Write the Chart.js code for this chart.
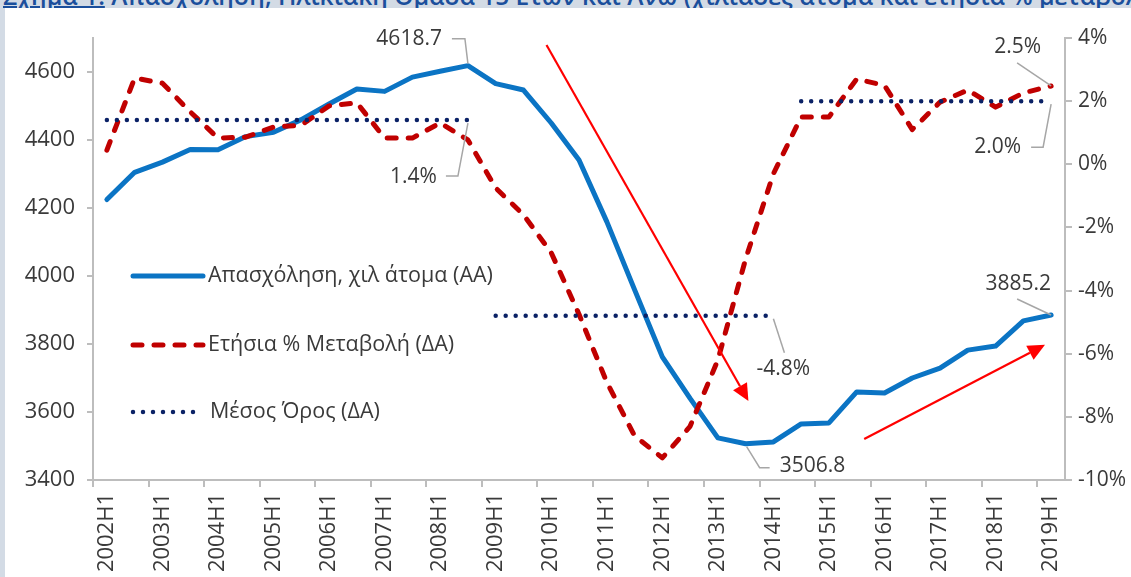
<!DOCTYPE html>
<html lang="el">
<head>
<meta charset="utf-8">
<title>Απασχόληση, Ηλικιακή Ομάδα 15 Ετών και Άνω</title>
<script src="https://cdn.jsdelivr.net/npm/chart.js@4"></script>
<style>
  html, body { margin: 0; padding: 0; }
  body {
    width: 1131px; height: 577px; overflow: hidden; position: relative;
    background: #d3dbe5; font-family: "Open Sans", sans-serif;
  }
  #title {
    position: absolute; left: 3px; top: -15px; white-space: nowrap;
    font-size: 24.5px; line-height: 22px; font-weight: 600; color: #1b4f9c;
  }
  #title u { text-decoration-thickness: 2px; }
  #panel {
    position: absolute; left: 5px; top: 8px; width: 1126px; height: 569px;
    background: #fff; z-index: 1;
  }
</style>
</head>
<body>
<div id="title"><u>Σχήμα 1:</u> Απασχόληση, Ηλικιακή Ομάδα 15 Ετών και Άνω (χιλιάδες άτομα και ετήσια % μεταβολή)</div>
<div id="panel"><canvas id="chart" width="1126" height="569"></canvas></div>
<script>
// Half-year periods
const categories = [
  '2002H1', '2002H2', '2003H1', '2003H2', '2004H1', '2004H2', '2005H1', '2005H2',
  '2006H1', '2006H2', '2007H1', '2007H2', '2008H1', '2008H2', '2009H1', '2009H2',
  '2010H1', '2010H2', '2011H1', '2011H2', '2012H1', '2012H2', '2013H1', '2013H2',
  '2014H1', '2014H2', '2015H1', '2015H2', '2016H1', '2016H2', '2017H1', '2017H2',
  '2018H1', '2018H2', '2019H1'
];

// Employment, thousands (left axis)
const employment = [
  4225, 4305, 4335, 4372, 4371, 4410, 4423, 4460,
  4506, 4550, 4543, 4585, 4602, 4618.7, 4566, 4547,
  4450, 4341, 4160, 3960, 3762, 3640, 3524, 3506.8,
  3512, 3565, 3568, 3659, 3656, 3700, 3729, 3782,
  3794, 3868, 3885.2
];

// Annual % change (right axis)
const annualChange = [
  0.45, 2.73, 2.57, 1.66, 0.83, 0.86, 1.18, 1.24,
  1.85, 1.95, 0.83, 0.83, 1.31, 0.77, -0.75, -1.6,
  -2.8, -4.75, -6.9, -8.6, -9.3, -8.3, -6.2, -3.0,
  -0.3, 1.5, 1.5, 2.7, 2.5, 1.1, 1.97, 2.35,
  1.81, 2.26, 2.48
];

// Period averages (right axis) and the periods they cover
const avgValues = [1.4, -4.8, 2.0];
const avgStart = [0, 14, 25];
const avgEnd = [13, 24, 34];

// Axis ranges
const leftMin = 3400, leftMax = 4700, leftStep = 200;
const rightMin = -10, rightMax = 4, rightStep = 2;

const FONT = "'Open Sans', sans-serif";
const TEXT = '#3a3a3a';
const AXIS = '#bdbdbd';

function avgData(k) {
  return categories.map((_, i) => (i >= avgStart[k] && i <= avgEnd[k]) ? avgValues[k] : null);
}

const avgStyle = {
  yAxisID: 'yR',
  borderColor: '#0b2266',
  borderWidth: 4.5,
  borderDash: [0, 10],
  borderCapStyle: 'round',
  pointRadius: 0,
  spanGaps: false,
  order: 1
};

// Callouts: text taken from the data, offsets in pixels from the anchor point
const callouts = [
  { ds: 0, idx: 13, text: employment[13].toFixed(1), align: 'right', dx: -26, dy: -27,
    leader: [[-16, -27], [-3, -27], [0, -2]] },
  { ds: 2, idx: avgEnd[0], text: avgValues[0].toFixed(1) + '%', align: 'right', dx: -31, dy: 57,
    leader: [[-22, 56], [-10, 56], [0, 3]] },
  { ds: 3, idx: avgEnd[1], text: avgValues[1].toFixed(1) + '%', align: 'left', dx: -17, dy: 53,
    leader: [[0, 3], [11, 37]] },
  { ds: 0, idx: 23, text: employment[23].toFixed(1), align: 'left', dx: 34, dy: 22,
    leader: [[1, 3], [14, 24], [24, 24]] },
  { ds: 0, idx: 34, text: employment[34].toFixed(1), align: 'right', dx: 0, dy: -31,
    leader: [[-34, -16], [0, 0]] },
  { ds: 1, idx: 34, text: annualChange[34].toFixed(1) + '%', align: 'right', dx: -10, dy: -39,
    leader: [[-34, -23], [0, 0]] },
  { ds: 4, idx: avgEnd[2], text: avgValues[2].toFixed(1) + '%', align: 'right', dx: -30, dy: 46,
    leader: [[-20, 46], [-8, 46], [0, 3]] }
];

// Trend arrows in data space: [category index, right-axis %]
const trendArrows = [
  { from: [15.83, 3.78], to: [23.1, -7.5] },
  { from: [27.27, -8.7], to: [33.78, -5.72] }
];

const insideLegend = {
  id: 'insideLegend',
  afterDatasetsDraw(chart) {
    const { ctx, chartArea } = chart;
    const x0 = chartArea.left + 40;
    const rows = [
      { ds: 0, y: chartArea.top + 238, len: 70, tx: 115 },
      { ds: 1, y: chartArea.top + 307, len: 70, tx: 115 },
      { ds: 2, y: chartArea.top + 374, len: 61, tx: 117 }
    ];
    rows.forEach(r => {
      const d = chart.data.datasets[r.ds];
      ctx.save();
      ctx.strokeStyle = d.borderColor;
      ctx.lineWidth = d.borderWidth;
      ctx.lineCap = d.borderCapStyle || 'butt';
      ctx.setLineDash(d.borderDash || []);
      ctx.beginPath();
      ctx.moveTo(x0, r.y);
      ctx.lineTo(x0 + r.len, r.y);
      ctx.stroke();
      ctx.setLineDash([]);
      ctx.fillStyle = TEXT;
      ctx.font = '21.5px ' + FONT;
      ctx.textBaseline = 'middle';
      ctx.textAlign = 'left';
      ctx.fillText(d.label, chartArea.left + r.tx, r.y);
      ctx.restore();
    });
  }
};

const calloutPlugin = {
  id: 'callouts',
  afterDatasetsDraw(chart) {
    const { ctx } = chart;
    callouts.forEach(c => {
      const p = chart.getDatasetMeta(c.ds).data[c.idx];
      ctx.save();
      ctx.strokeStyle = '#a6a6a6';
      ctx.lineWidth = 1.5;
      ctx.beginPath();
      c.leader.forEach((pt, k) => {
        const x = p.x + pt[0], y = p.y + pt[1];
        if (k === 0) ctx.moveTo(x, y); else ctx.lineTo(x, y);
      });
      ctx.stroke();
      ctx.fillStyle = TEXT;
      ctx.font = '21px ' + FONT;
      ctx.textBaseline = 'middle';
      ctx.textAlign = c.align;
      ctx.fillText(c.text, p.x + c.dx, p.y + c.dy);
      ctx.restore();
    });
  }
};

const arrowPlugin = {
  id: 'trendArrows',
  afterDatasetsDraw(chart) {
    const { ctx } = chart;
    const xs = chart.scales.x, ys = chart.scales.yR;
    trendArrows.forEach(a => {
      const x1 = xs.getPixelForValue(a.from[0]), y1 = ys.getPixelForValue(a.from[1]);
      const x2 = xs.getPixelForValue(a.to[0]), y2 = ys.getPixelForValue(a.to[1]);
      const ang = Math.atan2(y2 - y1, x2 - x1);
      const head = 17, half = 8;
      const bx = x2 - head * Math.cos(ang), by = y2 - head * Math.sin(ang);
      ctx.save();
      ctx.strokeStyle = '#ff0000';
      ctx.fillStyle = '#ff0000';
      ctx.lineWidth = 2.2;
      ctx.beginPath();
      ctx.moveTo(x1, y1);
      ctx.lineTo(bx, by);
      ctx.stroke();
      ctx.beginPath();
      ctx.moveTo(x2, y2);
      ctx.lineTo(bx + half * Math.sin(ang), by - half * Math.cos(ang));
      ctx.lineTo(bx - half * Math.sin(ang), by + half * Math.cos(ang));
      ctx.closePath();
      ctx.fill();
      ctx.restore();
    });
  }
};

const ctx = document.getElementById('chart').getContext('2d');
const chart = new Chart(ctx, {
  type: 'line',
  data: {
    labels: categories,
    datasets: [
      {
        label: 'Απασχόληση, χιλ άτομα (ΑΑ)',
        data: employment,
        yAxisID: 'yL',
        borderColor: '#0b74c4',
        borderWidth: 5,
        borderJoinStyle: 'round',
        borderCapStyle: 'round',
        pointRadius: 0,
        tension: 0,
        order: 3
      },
      {
        label: 'Ετήσια % Μεταβολή (ΔΑ)',
        data: annualChange,
        yAxisID: 'yR',
        borderColor: '#c00000',
        borderWidth: 5,
        borderDash: [9, 12],
        borderCapStyle: 'round',
        borderJoinStyle: 'round',
        pointRadius: 0,
        tension: 0,
        order: 2
      },
      Object.assign({ label: 'Μέσος Όρος (ΔΑ)', data: avgData(0) }, avgStyle),
      Object.assign({ label: 'Μέσος Όρος (ΔΑ)', data: avgData(1) }, avgStyle),
      Object.assign({ label: 'Μέσος Όρος (ΔΑ)', data: avgData(2) }, avgStyle)
    ]
  },
  options: {
    responsive: false,
    animation: false,
    devicePixelRatio: 1,
    layout: { padding: { top: 30, left: 0, right: 0, bottom: 0 } },
    plugins: { legend: { display: false }, tooltip: { enabled: false } },
    scales: {
      x: {
        type: 'category',
        offset: true,
        border: { color: AXIS, width: 2 },
        grid: {
          offset: true,
          drawOnChartArea: false,
          tickLength: 7,
          lineWidth: 2,
          color: (c) => (c.index % 2 === 0 ? AXIS : 'rgba(0,0,0,0)')
        },
        ticks: {
          autoSkip: false,
          minRotation: 90,
          maxRotation: 90,
          padding: 6,
          color: TEXT,
          font: { family: FONT, size: 22 },
          callback: function (val, i) { return i % 2 === 0 ? this.getLabelForValue(val) : ''; }
        },
        afterFit: (s) => { s.height = 97; }
      },
      yL: {
        position: 'left',
        min: leftMin,
        max: leftMax,
        border: { color: AXIS, width: 2 },
        grid: { drawOnChartArea: false, tickLength: 6, lineWidth: 2, color: AXIS },
        ticks: {
          stepSize: leftStep,
          includeBounds: false,
          padding: 12,
          color: TEXT,
          font: { family: FONT, size: 22 },
          callback: (v) => String(v)
        },
        afterFit: (s) => { s.width = 88; }
      },
      yR: {
        position: 'right',
        min: rightMin,
        max: rightMax,
        border: { color: AXIS, width: 2 },
        grid: { drawOnChartArea: false, tickLength: 7, lineWidth: 2, color: AXIS },
        ticks: {
          stepSize: rightStep,
          padding: 6,
          color: TEXT,
          font: { family: FONT, size: 21 },
          callback: (v) => v + '%'
        },
        afterFit: (s) => { s.width = 66; }
      }
    }
  },
  plugins: [insideLegend, calloutPlugin, arrowPlugin]
});
</script>
</body>
</html>
